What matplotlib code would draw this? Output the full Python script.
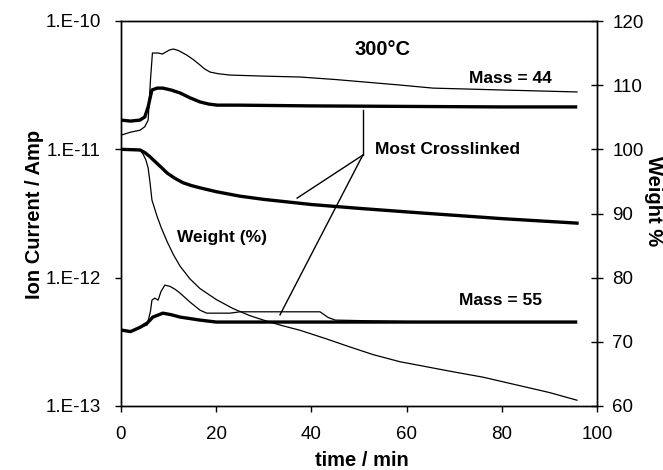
import matplotlib
matplotlib.use("Agg")
import matplotlib.pyplot as plt

plt.rcParams['font.family'] = ['Liberation Sans', 'DejaVu Sans']

# Mass 44 (ion current, A)
t_m44_thin = [0, 2, 4, 5.0, 5.7, 6.2, 6.6, 7.8, 8.7, 9.5, 10.2, 11.0, 12.0, 13.8, 15.2, 16.6,
              17.5, 18.7, 20.5, 22.9, 30, 37.6, 45, 58.6, 65.5, 80, 95.8]
i_m44_thin = [1.29e-11, 1.36e-11, 1.41e-11, 1.5e-11, 1.69e-11, 3.5e-11, 5.63e-11, 5.63e-11,
              5.53e-11, 5.75e-11, 5.95e-11, 6.05e-11, 5.9e-11, 5.43e-11, 5.0e-11, 4.54e-11,
              4.25e-11, 4.0e-11, 3.88e-11, 3.79e-11, 3.72e-11, 3.66e-11, 3.5e-11, 3.17e-11,
              3.0e-11, 2.9e-11, 2.8e-11]
t_m44_thick = [0, 2, 4, 5.0, 5.7, 6.2, 6.5, 7.6, 8.8, 10.5, 12.4, 14.5, 16.6, 18.5, 20.2, 24.4,
               40, 60, 80, 95.5]
i_m44_thick = [1.69e-11, 1.66e-11, 1.69e-11, 1.79e-11, 2.14e-11, 2.6e-11, 2.9e-11, 3.0e-11,
               3.0e-11, 2.9e-11, 2.75e-11, 2.52e-11, 2.34e-11, 2.25e-11, 2.21e-11, 2.21e-11,
               2.18e-11, 2.16e-11, 2.14e-11, 2.14e-11]

# Mass 55 (ion current, A)
t_m55_thin = [0, 2, 4, 5.5, 6.2, 6.5, 7.1, 7.8, 8.4, 9.2, 10.3, 11.4, 12.4, 14.5, 16.6, 18.0,
              22.9, 25, 41.8, 43.5, 45, 60, 80, 95.5]
i_m55_thin = [3.91e-13, 3.8e-13, 4.1e-13, 4.28e-13, 5.5e-13, 6.68e-13, 6.93e-13, 6.68e-13,
              7.8e-13, 8.75e-13, 8.55e-13, 8.1e-13, 7.58e-13, 6.45e-13, 5.58e-13, 5.29e-13,
              5.29e-13, 5.42e-13, 5.42e-13, 4.9e-13, 4.67e-13, 4.55e-13, 4.51e-13, 4.51e-13]
t_m55_thick = [0, 2, 4, 5.5, 6.7, 8.8, 10.5, 12.4, 14.5, 16.6, 20, 40, 60, 80, 95.5]
i_m55_thick = [3.91e-13, 3.8e-13, 4.1e-13, 4.43e-13, 4.93e-13, 5.29e-13, 5.15e-13, 4.93e-13,
               4.8e-13, 4.67e-13, 4.51e-13, 4.51e-13, 4.51e-13, 4.51e-13, 4.51e-13]

# Weight (%)
t_w_thick = [0, 4, 5.0, 6.0, 7.0, 8.3, 9.7, 11.3, 13.0, 14.8, 16.6, 20, 25, 30, 35, 40, 50,
             62.8, 80, 95.8]
w_thick = [100.0, 99.9, 99.5, 98.9, 98.2, 97.3, 96.3, 95.5, 94.8, 94.35, 94.0, 93.4, 92.7,
           92.2, 91.8, 91.4, 90.8, 90.1, 89.2, 88.5]
t_w_thin = [0, 4, 4.6, 5.2, 5.7, 6.1, 6.5, 7.6, 8.5, 9.7, 11.0, 12.4, 14.5, 16.6, 20, 23.5, 27,
            30.7, 34, 37.6, 43, 48.1, 53, 58.6, 65.0, 70, 76.0, 83, 90.0, 95.8]
w_thin = [100.0, 99.9, 99.3, 98.4, 97.1, 94.8, 92.1, 89.5, 87.7, 85.6, 83.6, 81.8, 79.8, 78.3,
          76.6, 75.2, 74.1, 73.2, 72.5, 71.8, 70.5, 69.2, 68.0, 66.9, 66.0, 65.3, 64.5, 63.3,
          62.1, 60.9]

x_ticks = [0, 20, 40, 60, 80, 100]
y_left_ticks = [1e-13, 1e-12, 1e-11, 1e-10]
y_left_labels = ["1.E-13", "1.E-12", "1.E-11", "1.E-10"]
y_right_ticks = [60, 70, 80, 90, 100, 110, 120]

W, H = 663, 470
fig = plt.figure(figsize=(W / 100, H / 100), dpi=100)
ax = fig.add_axes([121 / W, 1 - 406 / H, 476 / W, 385 / H])
ax2 = ax.twinx()

thin = 0.9
thick = 2.4
ax.plot(t_m44_thin, i_m44_thin, color='black', lw=thin)
ax.plot(t_m44_thick, i_m44_thick, color='black', lw=thick)
ax.plot(t_m55_thin, i_m55_thin, color='black', lw=thin)
ax.plot(t_m55_thick, i_m55_thick, color='black', lw=thick)
ax2.plot(t_w_thin, w_thin, color='black', lw=thin)
ax2.plot(t_w_thick, w_thick, color='black', lw=thick)

ax.set_yscale('log')
ax.set_xlim(0, 100)
ax.set_ylim(1e-13, 1e-10)
ax.set_yticks(y_left_ticks)
ax.set_yticklabels(y_left_labels)
ax.yaxis.set_minor_locator(matplotlib.ticker.NullLocator())
ax.set_xticks(x_ticks)
ax2.set_ylim(60, 120)
ax2.set_yticks(y_right_ticks)

for a in (ax, ax2):
    for s in a.spines.values():
        s.set_linewidth(1.0)
        s.set_color('black')

ax.tick_params(axis='y', direction='out', length=4.5, width=1.0, pad=10, labelsize=13.5)
ax.tick_params(axis='x', direction='out', length=4.5, width=1.0, pad=10, labelsize=13.5)
ax2.tick_params(axis='y', direction='inout', length=8, width=1.0, pad=7, labelsize=13.5)

# annotations (in weight-axis coordinates)
ax2.plot([50.8, 50.8], [106.1, 99.1], color='black', lw=1.0)
ax2.plot([50.8, 37.0], [99.1, 92.4], color='black', lw=1.0)
ax2.plot([50.8, 33.4], [99.1, 74.2], color='black', lw=1.0)

ax2.text(55.0, 115.5, "300°C", ha='center', va='center', fontsize=14.5, fontweight='bold')
ax2.text(81.7, 111.1, "Mass = 44", ha='center', va='center', fontsize=12.5, fontweight='bold')
ax2.text(68.5, 99.9, "Most Crosslinked", ha='center', va='center', fontsize=12.5, fontweight='bold')
ax2.text(21.2, 86.2, "Weight (%)", ha='center', va='center', fontsize=12.5, fontweight='bold')
ax2.text(79.8, 76.5, "Mass = 55", ha='center', va='center', fontsize=12.5, fontweight='bold')

fig.text(35 / W, 1 - 214 / H, "Ion Current / Amp", rotation=90, ha='center', va='center',
         fontsize=14.5, fontweight='bold')
fig.text(653 / W, 1 - 201 / H, "Weight %", rotation=-90, ha='center', va='center',
         fontsize=14.5, fontweight='bold')
fig.text(362 / W, 1 - 460 / H, "time / min", ha='center', va='center',
         fontsize=14.5, fontweight='bold')

fig.savefig("out.png", dpi=100)
